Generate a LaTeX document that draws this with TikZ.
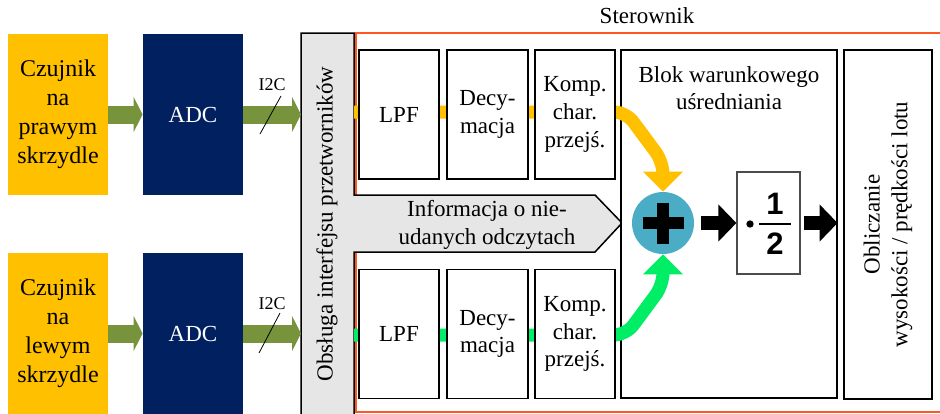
\documentclass[tikz,border=0pt]{standalone}
\usepackage{fontspec}
\setmainfont{Liberation Serif}
\newfontfamily\digitfont{Liberation Sans}
\usetikzlibrary{arrows.meta}

\definecolor{sensorYellow}{HTML}{FFC000}
\definecolor{adcBlue}{HTML}{002060}
\definecolor{busGreen}{HTML}{77933C}
\definecolor{sumBlue}{HTML}{4BACC6}
\definecolor{sigGreen}{HTML}{00EE66}
\definecolor{frameOrange}{HTML}{FF5722}
\definecolor{panelGray}{HTML}{E7E6E6}

\tikzset{
  txt/.style={font=\fontsize{11.5}{13.8}\selectfont, align=center, inner sep=0pt},
  sensor/.style={txt, fill=sensorYellow, minimum width=50pt, minimum height=80.5pt, font=\fontsize{12}{14.5}\selectfont},
  adc/.style={txt, fill=adcBlue, text=white, minimum width=50pt, minimum height=80.5pt},
  block/.style={txt, draw, line width=0.6pt, fill=white, minimum width=40pt, minimum height=64.5pt},
  digit/.style={font=\digitfont\bfseries\fontsize{15.5}{15.5}\selectfont, inner sep=0pt},
  bus/.style={busGreen, line width=9pt, -{Triangle[length=4.5pt,width=17.5pt]}},
  sig/.style={line width=6.5pt, rounded corners=6pt, -{Triangle[length=10pt,width=19.5pt]}},
  blk/.style={black, line width=7pt, -{Triangle[length=9pt,width=18pt]}},
}

\begin{document}
\begin{tikzpicture}[x=0.5pt,y=-0.5pt]
\useasboundingbox (0,0) rectangle (940,413);
\clip (0,0) rectangle (940,413);

% controller frame
\draw[frameOrange, line width=1pt] (355.5,33) rectangle (960,411.5);
\node[txt] (ster) at (647,16) {Sterownik};

% interface panel with the info arrow
\filldraw[fill=panelGray, draw=black, line width=0.75pt] (301,33) -- (354,33) -- (354,195) -- (595,195) -- (622,223)
    -- (595,252) -- (354,252) -- (354,420) -- (301,420) -- cycle;
\node[txt, rotate=90] (ifT) at (327,224) {Obsługa interfejsu przetworników};
\node[txt] (info) at (487,225) {Informacja o nie-\\udanych odczytach};

% averaging and output blocks
\node[block, minimum width=108pt, minimum height=174pt] (avg) at (729,224) {};
\node[txt] (avgT) at (729,88) {Blok warunkowego\\uśredniania};
\node[block, rotate=90, minimum width=174.5pt, minimum height=44pt] (calc) at (888,224.5) {Obliczanie\\wysokości / prędkości lotu};

% summing node
\node[circle, fill=sumBlue, minimum size=31pt, inner sep=0pt] (sum) at (663,223) {};
\draw[line width=6pt] ([xshift=-10.25pt]sum.center) -- ([xshift=10.25pt]sum.center);
\draw[line width=6pt] ([yshift=-10.25pt]sum.center) -- ([yshift=10.25pt]sum.center);

% signal paths
\coordinate (inR) at (354,112);
\coordinate (inL) at (354,335);
\draw[sig, sensorYellow] (inR) -- (626,112) -- (663,162) -- (sum.north);
\draw[sig, sigGreen] (inL) -- (626,335) -- (663,285) -- (sum.south);

% filter chains
\node[block] (lpfR) at (399,114.5) {LPF};
\node[block, minimum width=40.5pt] (decR) at (487.5,114.5) {Decy-\\macja};
\node[block] (kompR) at (575,114.5) {Komp.\\char.\\przejś.};
\node[block] (lpfL) at (399,334) {LPF};
\node[block, minimum width=40.5pt] (decL) at (487.5,334) {Decy-\\macja};
\node[block] (kompL) at (575,334) {Komp.\\char.\\przejś.};

% divide by two
\node[block, draw=black!70, minimum width=31.5pt, minimum height=51pt] (half) at (768.5,223) {};
\node[circle, fill, inner sep=1.3pt] (dot) at (750,224) {};
\node[digit] (one) at (775,204) {1};
\node[digit] (two) at (775,244) {2};
\draw[line width=1pt] (759,224) -- (791,224);
\draw[blk] ([xshift=3.5pt]sum.east) -- (half.west);
\draw[blk] ([xshift=1.5pt]half.east) -- (half.east -| avg.east);

% sensors and converters
\node[sensor] (senR) at (58,114.5) {Czujnik\\na\\prawym\\skrzydle};
\node[adc] (adcR) at (193,114.5) {ADC};
\node[sensor] (senL) at (58,333.5) {Czujnik\\na\\lewym\\skrzydle};
\node[adc] (adcL) at (193,333.5) {ADC};
\coordinate (ifR) at (301,114.5);
\coordinate (ifL) at (301,333.5);
\draw[bus] (senR) -- (adcR);
\draw[bus] (adcR) -- (ifR);
\draw[bus] (senL) -- (adcL);
\draw[bus] (adcL) -- (ifL);

% I2C marks
\draw (260,134) -- (281,96);
\node[font=\fontsize{9}{9}\selectfont] (i2cR) at (272,85) {I2C};
\draw (259,353) -- (280,313);
\node[font=\fontsize{9}{9}\selectfont] (i2cL) at (272,304) {I2C};

\end{tikzpicture}
\end{document}
